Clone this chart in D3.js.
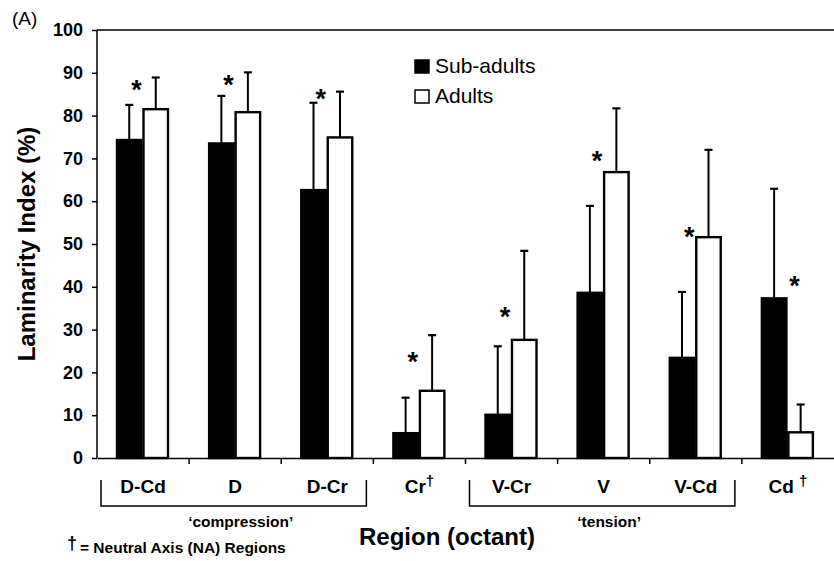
<!DOCTYPE html>
<html>
<head>
<meta charset="utf-8">
<script src="https://cdn.jsdelivr.net/npm/d3@7"></script>
<style>
  body { margin: 0; background: #fff; }
  svg { font-family: Arial, "Liberation Sans", sans-serif; }
</style>
</head>
<body>
<script>
// data
const regions = ["D-Cd", "D", "D-Cr", "Cr", "V-Cr", "V", "V-Cd", "Cd"];
const naRegions = ["Cr", "Cd"];               // marked with a dagger
const subAdults = [74.3, 73.5, 62.6, 5.8, 10.1, 38.6, 23.4, 37.3];
const subAdultsErr = [82.5, 84.6, 83.0, 14.1, 26.1, 58.9, 38.8, 62.9];   // top of error bar
const adults = [81.5, 80.8, 74.9, 15.7, 27.6, 66.8, 51.6, 6.0];
const adultsErr = [88.9, 90.1, 85.6, 28.7, 48.4, 81.7, 72.0, 12.5];
const starLevel = [87.5, 88.5, 85.2, 23.9, 34.3, 70.8, 53.1, 41.7];
const starOver = ["gap", "gap", "gap", "gap", "gap", "gap", "gap", "adult"];
const yTicks = [0, 10, 20, 30, 40, 50, 60, 70, 80, 90, 100];
const groups = [
  { label: "\u2018compression\u2019", from: "D-Cd", to: "D-Cr" },
  { label: "\u2018tension\u2019", from: "V-Cr", to: "V-Cd" }
];

const W = 834, H = 561;
const margin = { top: 30, right: 0, bottom: 103, left: 97 };

const svg = d3.select("body").append("svg")
    .attr("width", W)
    .attr("height", H);

const x = d3.scaleBand()
    .domain(regions)
    .range([margin.left, W - margin.right]);

// sub-adult / adult bars inside each band
const xs = d3.scaleBand()
    .domain(["sub", "adult"])
    .range([19, 72]);

const y = d3.scaleLinear()
    .domain([0, 100])
    .range([H - margin.bottom, margin.top]);

const rows = regions.map((r, i) => ({
  region: r, sub: subAdults[i], subErr: subAdultsErr[i],
  adult: adults[i], adultErr: adultsErr[i], star: starLevel[i], over: starOver[i]
}));

// bars
const g = svg.append("g");
rows.forEach(d => {
  const x0 = x(d.region);
  [["sub", d.sub, d.subErr], ["adult", d.adult, d.adultErr]].forEach(([k, v, e]) => {
    const bx = x0 + xs(k), bw = xs.bandwidth();
    g.append("rect")
        .attr("x", bx + 1)
        .attr("y", y(v))
        .attr("width", bw - 2)
        .attr("height", y(0) - y(v))
        .attr("fill", k === "sub" ? "#000" : "#fff")
        .attr("stroke", "#000")
        .attr("stroke-width", 2.4);
    const cx = bx + bw / 2;
    g.append("line")
        .attr("x1", cx).attr("x2", cx)
        .attr("y1", y(v)).attr("y2", y(e))
        .attr("stroke", "#000").attr("stroke-width", 2);
    g.append("line")
        .attr("x1", cx - 4).attr("x2", cx + 4)
        .attr("y1", y(e)).attr("y2", y(e))
        .attr("stroke", "#000").attr("stroke-width", 2.2);
  });
  const sx = d.over === "adult" ? x0 + xs("adult") + xs.bandwidth() / 2 - 6 : x0 + xs("adult") - 6;
  g.append("text")
      .attr("x", sx)
      .attr("y", y(d.star) + 15)
      .attr("text-anchor", "middle")
      .style("font-size", "27px")
      .style("font-weight", "bold")
      .text("*");
});

// axes
const yAxis = svg.append("g")
    .attr("transform", `translate(${margin.left},0)`)
    .call(d3.axisLeft(y).tickValues(yTicks).tickSize(5).tickPadding(9));
yAxis.select(".domain").attr("stroke-width", 1.5).attr("d", `M0,${y(0)}V${y(100)}`);
yAxis.selectAll(".tick line").attr("stroke-width", 1.5);
yAxis.selectAll(".tick text")
    .style("font-size", "18px")
    .style("font-weight", "bold")
    .attr("fill", "#000")
    .style("font-family", "Arial, 'Liberation Sans', sans-serif");

const xAxis = svg.append("g")
    .attr("transform", `translate(0,${y(0)})`)
    .call(d3.axisBottom(x).tickValues([]).tickSizeOuter(0));
xAxis.select(".domain").attr("stroke-width", 1.5);
xAxis.selectAll(".bound")
    .data(regions.slice(1))
    .join("line")
    .attr("x1", d => x(d)).attr("x2", d => x(d))
    .attr("y1", 0).attr("y2", 6)
    .attr("stroke", "#000").attr("stroke-width", 1.5);

// top frame line
svg.append("line")
    .attr("x1", margin.left).attr("x2", W)
    .attr("y1", y(100)).attr("y2", y(100))
    .attr("stroke", "#000").attr("stroke-width", 1.5);

// category labels
const cat = svg.append("g");
regions.forEach(r => {
  const t = cat.append("text")
      .attr("x", x(r) + x.bandwidth() / 2)
      .attr("y", 493)
      .attr("text-anchor", "middle")
      .style("font-size", "19px")
      .style("font-weight", "bold");
  t.append("tspan").text(r === "Cd" ? "Cd " : r);
  if (naRegions.includes(r)) {
    t.append("tspan")
        .attr("dy", -7)
        .style("font-size", "15px")
        .text("\u2020");
  }
});

// brackets for groups
groups.forEach(gr => {
  const x1 = x(gr.from) + 4, x2 = x(gr.to) + x.bandwidth() - 7;
  svg.append("path")
      .attr("d", `M${x1},480V506H${x2}V480`)
      .attr("fill", "none")
      .attr("stroke", "#000")
      .attr("stroke-width", 1.5);
  svg.append("text")
      .attr("x", (x1 + x2) / 2 + 7)
      .attr("y", 527)
      .attr("text-anchor", "middle")
      .style("font-size", "15.5px")
      .style("font-weight", "bold")
      .text(gr.label);
});

// axis titles
svg.append("text")
    .attr("x", 447)
    .attr("y", 545)
    .attr("text-anchor", "middle")
    .style("font-size", "24px")
    .style("font-weight", "bold")
    .text("Region (octant)");

svg.append("text")
    .attr("transform", `translate(35,${y(50)}) rotate(-90)`)
    .attr("text-anchor", "middle")
    .style("font-size", "24px")
    .style("font-weight", "bold")
    .text("Laminarity Index (%)");

// NA note
const note = svg.append("text")
    .attr("x", 67)
    .attr("y", 553)
    .style("font-weight", "bold");
note.append("tspan").style("font-size", "18px").attr("dy", -4).text("\u2020");
note.append("tspan").style("font-size", "15.5px").attr("dy", 4).attr("dx", 3).text("= Neutral Axis (NA) Regions");

// panel letter
svg.append("text")
    .attr("x", 12)
    .attr("y", 25)
    .style("font-size", "19px")
    .text("(A)");

// legend
const legend = svg.append("g").attr("transform", "translate(414,59)");
[["Sub-adults", "#000"], ["Adults", "#fff"]].forEach(([label, fill], i) => {
  legend.append("rect")
      .attr("x", 1).attr("y", i * 30 + 1)
      .attr("width", 14).attr("height", 13)
      .attr("fill", fill)
      .attr("stroke", "#000")
      .attr("stroke-width", 1.5);
  legend.append("text")
      .attr("x", 21)
      .attr("y", i * 30 + 14)
      .style("font-size", "21px")
      .text(label);
});
</script>
</body>
</html>
